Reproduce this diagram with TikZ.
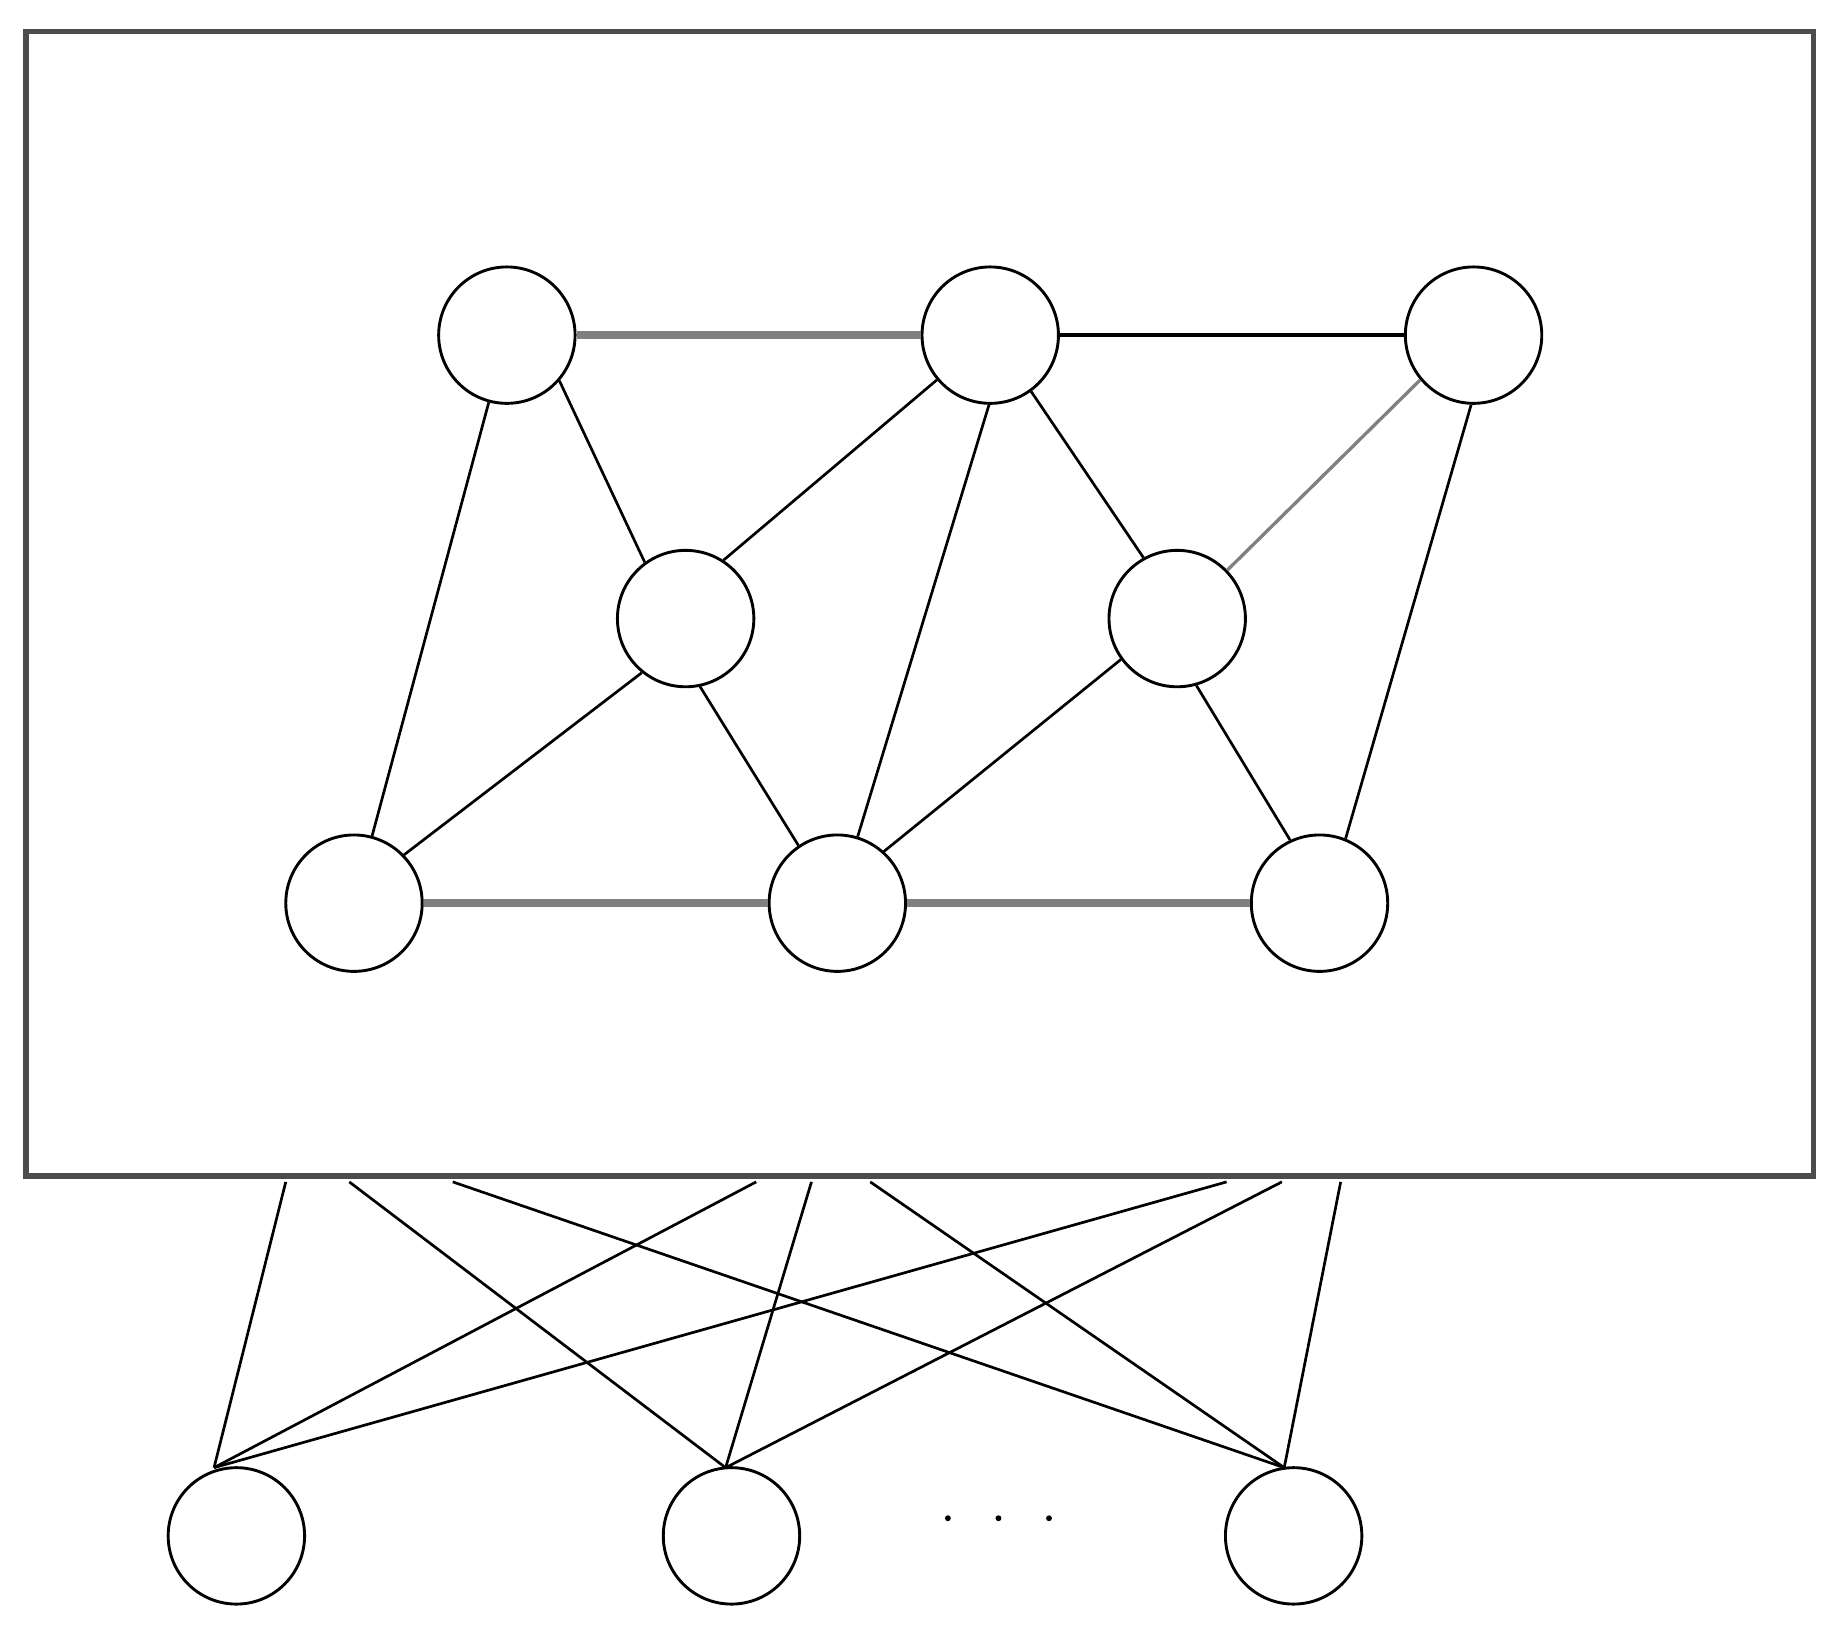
\documentclass[tikz,border=0pt]{standalone}
\usepackage{tikz}
\definecolor{frame}{rgb}{0.3, 0.3, 0.3}
\tikzset{
  unit/.style={draw, circle, minimum size=1.16cm, inner sep=0pt, line width=0.7pt},
  link/.style={line width=0.65pt},
  heavy/.style={line width=1.8pt, gray},
}

\begin{document}
\begin{tikzpicture}
\useasboundingbox (0, 0) rectangle (15.68, 13.86);
\draw [frame, line width=1.3pt] (0.22, 3.86) rectangle (15.42, 13.59);
% upper graph
\node [unit] (t1) at (4.31, 11.01) {};
\node [unit] (t2) at (8.42, 11.01) {};
\node [unit] (t3) at (12.53, 11.01) {};
\node [unit] (m1) at (5.83, 8.60) {};
\node [unit] (m2) at (10.01, 8.60) {};
\node [unit] (b1) at (3.01, 6.18) {};
\node [unit] (b2) at (7.12, 6.18) {};
\node [unit] (b3) at (11.22, 6.18) {};
\draw [heavy] (t1) -- (t2);
\draw [heavy] (b1) -- (b2);
\draw [heavy] (b2) -- (b3);
\draw [link, line width=0.8pt] (t2) -- (t3);
\draw [link, gray, line width=0.8pt] (m2.44) -- (t3.-140);
\draw [link] (t1) -- (b1);
\draw [link] (t1.-41) -- (m1.126);
\draw [link] (m1.57) -- (t2.-140);
\draw [link] (m1.-129) -- (b1.44);
\draw [link] (m1.-78) -- (b2.124);
\draw [link] (t2.-91) -- (b2.73);
\draw [link] (t2.-54) -- (m2.119);
\draw [link] (m2.-144) -- (b2.48);
\draw [link] (m2.-74) -- (b3.115);
\draw [link] (t3.-92) -- (b3.68);
% lower units
\node [unit] (l1) at (2.01, 0.80) {};
\node [unit] (l2) at (6.22, 0.80) {};
\node [unit] (l3) at (11.00, 0.80) {};
\coordinate (p1) at (1.82, 1.38);
\coordinate (p2) at (6.17, 1.38);
\coordinate (p3) at (10.92, 1.38);
\foreach \x/\y in {2.43/p1, 2.97/p2, 3.85/p3, 6.43/p1, 6.90/p2, 7.40/p3, 10.43/p1, 10.90/p2, 11.40/p3}
  \draw [link] (\x, 3.81) -- (\y);
\foreach \x in {8.06, 8.49, 8.92}
  \fill (\x, 0.95) circle (0.025);
\end{tikzpicture}
\end{document}
